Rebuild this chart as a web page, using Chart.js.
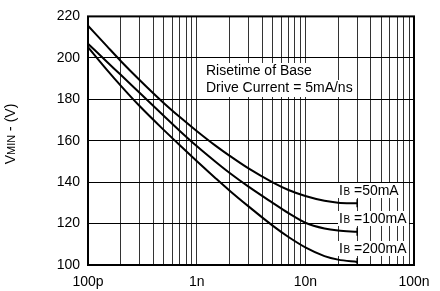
<!DOCTYPE html>
<html>
<head>
<meta charset="UTF-8">
<title>VMIN vs rise time</title>
<script src="https://cdn.jsdelivr.net/npm/chart.js"></script>
<style>
  body { margin: 0; background: #fff; }
  #wrap { width: 440px; height: 291px; }
</style>
</head>
<body>
<div id="wrap"><canvas id="chart"></canvas></div>
<script>
  // time (s) along the log axis
  const xs = [1e-10, 1.5e-10, 2e-10, 3e-10, 5e-10, 7e-10, 1e-9, 1.5e-9, 2e-9, 3e-9, 5e-9, 7e-9, 1e-8, 1.5e-8, 2e-8, 3e-8];
  const ib50 = [215.5, 205.5, 198.5, 189.2, 178.1, 171.4, 164.7, 157.5, 152.8, 146.6, 139.9, 136.2, 133.3, 131.0, 130.1, 129.8];
  const ib100 = [206.8, 198.0, 191.8, 183.0, 171.9, 164.7, 157.4, 149.7, 144.5, 137.8, 130.0, 125.0, 120.4, 117.6, 116.6, 116.0];
  const ib200 = [205.2, 194.1, 186.6, 176.6, 165.1, 157.8, 150.2, 141.8, 136.0, 128.3, 119.0, 113.5, 108.5, 104.3, 102.6, 101.5];
  const seriesNames = ['50mA', '100mA', '200mA'];

  const xTickValues = [1e-10, 1e-9, 1e-8, 1e-7];
  const xTickLabels = ['100p', '1n', '10n', '100n'];
  const gridMultipliers = [1, 2, 3, 4, 5, 6, 7, 8, 9];
  const yTicks = [100, 120, 140, 160, 180, 200, 220];

  const noteLines = ['Risetime of Base', 'Drive Current = 5mA/ns'];

  const FONT = "'Liberation Sans', Arial, Helvetica, sans-serif";

  function pts(ys) {
    return xs.map((x, i) => ({ x: x, y: ys[i] }));
  }

  const textPlugin = {
    id: 'texts',
    beforeDatasetsDraw(chart) {
      const ctx = chart.ctx;
      ctx.save();
      ctx.textBaseline = 'alphabetic';
      ctx.textAlign = 'left';

      // note text with white backing
      ctx.font = '14px ' + FONT;
      const nx = 206, nb = [75, 92];
      noteLines.forEach((t, i) => {
        const w = ctx.measureText(t).width;
        ctx.fillStyle = '#fff';
        ctx.fillRect(nx - 3, nb[i] - 12, w + 5, 17);
        ctx.fillStyle = '#000';
        ctx.fillText(t, nx, nb[i]);
      });

      // IB labels
      const lb = [195, 223, 253];
      const lx = 339;
      seriesNames.forEach((name, i) => {
        ctx.font = '14px ' + FONT;
        const wI = ctx.measureText('I').width;
        ctx.font = '10px ' + FONT;
        const wB = ctx.measureText('B').width;
        ctx.font = '14px ' + FONT;
        const rest = ' =' + name;
        const wR = ctx.measureText(rest).width;
        ctx.fillStyle = '#fff';
        ctx.fillRect(lx - 1, lb[i] - 12, wI + wB + wR + 4, 15);
        ctx.fillStyle = '#000';
        ctx.fillText('I', lx, lb[i]);
        ctx.font = '10px ' + FONT;
        ctx.fillText('B', lx + wI + 0.5, lb[i]);
        ctx.font = '14px ' + FONT;
        ctx.fillText(rest, lx + wI + wB + 0.5, lb[i]);
      });
      ctx.restore();
    },
    afterDatasetsDraw(chart) {
      const ctx = chart.ctx;
      const a = chart.chartArea;
      ctx.save();
      // end marks of the curves
      ctx.strokeStyle = '#000';
      ctx.lineWidth = 1.5;
      chart.data.datasets.forEach(ds => {
        const last = ds.data[ds.data.length - 1];
        const px = chart.scales.x.getPixelForValue(last.x);
        const py = chart.scales.y.getPixelForValue(last.y);
        ctx.beginPath();
        ctx.moveTo(px, py - 4);
        ctx.lineTo(px, Math.min(py + 4, a.bottom));
        ctx.stroke();
      });
      // frame
      ctx.lineWidth = 2;
      ctx.strokeRect(a.left, a.top, a.right - a.left, a.bottom - a.top);

      // y axis title with subscript
      ctx.fillStyle = '#000';
      ctx.translate(15, 134);
      ctx.rotate(-Math.PI / 2);
      ctx.textBaseline = 'alphabetic';
      ctx.textAlign = 'left';
      ctx.font = '14px ' + FONT;
      const wV = ctx.measureText('V').width;
      ctx.font = '11px ' + FONT;
      const wM = ctx.measureText('MIN').width;
      ctx.font = '14px ' + FONT;
      const tail = ' - (V)';
      const wT = ctx.measureText(tail).width;
      let x0 = -(wV + wM + wT) / 2;
      ctx.fillText('V', x0, 0);
      ctx.font = '11px ' + FONT;
      ctx.fillText('MIN', x0 + wV, 0);
      ctx.font = '14px ' + FONT;
      ctx.fillText(tail, x0 + wV + wM, 0);
      ctx.restore();
    }
  };

  const lineStyle = {
    borderColor: '#000',
    borderWidth: 2,
    pointRadius: 0,
    fill: false,
    cubicInterpolationMode: 'monotone'
  };

  new Chart(document.getElementById('chart'), {
    type: 'line',
    data: {
      datasets: [
        Object.assign({ label: 'IB = ' + seriesNames[0], data: pts(ib50) }, lineStyle),
        Object.assign({ label: 'IB = ' + seriesNames[1], data: pts(ib100) }, lineStyle),
        Object.assign({ label: 'IB = ' + seriesNames[2], data: pts(ib200) }, lineStyle)
      ]
    },
    options: {
      responsive: true,
      maintainAspectRatio: false,
      animation: false,
      devicePixelRatio: 1,
      layout: { padding: { top: 16, right: 26, left: 0, bottom: 0 } },
      plugins: { legend: { display: false }, tooltip: { enabled: false } },
      scales: {
        x: {
          type: 'logarithmic',
          min: 1e-10,
          max: 1e-7,
          afterBuildTicks(s) {
            const t = [];
            xTickValues.forEach((d, i) => {
              if (i < xTickValues.length - 1) gridMultipliers.forEach(m => t.push({ value: d * m }));
              else t.push({ value: d });
            });
            s.ticks = t;
          },
          afterFit(s) { s.height = 26; },
          grid: { color: '#333', lineWidth: 1, drawTicks: false },
          border: { display: false },
          ticks: {
            autoSkip: false,
            maxRotation: 0,
            padding: 9,
            color: '#000',
            font: { family: FONT, size: 14 },
            callback(v) {
              const i = xTickValues.findIndex(d => Math.abs(v / d - 1) < 1e-6);
              return i >= 0 ? xTickLabels[i] : '';
            }
          }
        },
        y: {
          min: 100,
          max: 220,
          afterBuildTicks(s) { s.ticks = yTicks.map(v => ({ value: v })); },
          afterFit(s) { s.width = 88; },
          grid: { color: '#000', lineWidth: 1, drawTicks: false },
          border: { display: false },
          ticks: {
            padding: 8,
            color: '#000',
            font: { family: FONT, size: 14 }
          }
        }
      }
    },
    plugins: [textPlugin]
  });
</script>
</body>
</html>
